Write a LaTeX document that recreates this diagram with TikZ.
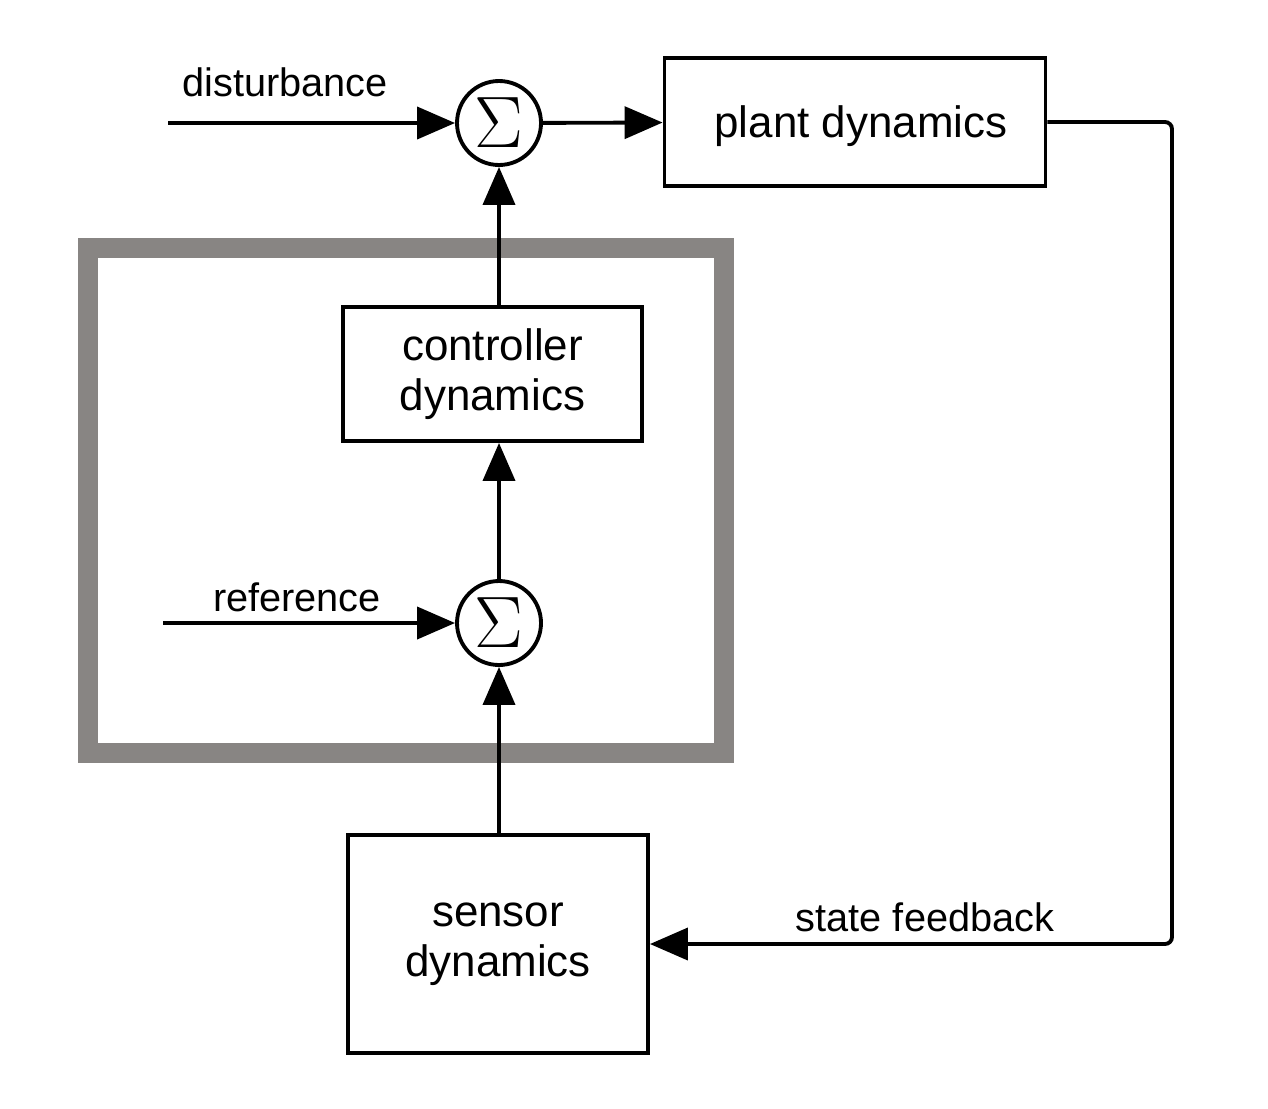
\documentclass[tikz,border=0pt]{standalone}
\usepackage{fontspec}
\setmainfont{Liberation Sans}
\usepackage{tikz}
\usetikzlibrary{positioning}
\usetikzlibrary{arrows.meta}
\definecolor{framegray}{RGB}{136,133,131}
\tikzset{block/.style={draw, line width=1.1pt, align=center, font=\fontsize{12.5}{14.3}\selectfont}}
\tikzset{sumnode/.style={draw, circle, line width=1.1pt, minimum size=0.84cm, inner sep=0pt, font=\fontsize{21}{21}\selectfont}}
\tikzset{sig/.style={line width=1.1pt, -{Triangle[length=3.8mm,width=3.2mm]}}}
\tikzset{lbl/.style={font=\fontsize{11.3}{13}\selectfont}}

\begin{document}
\begin{tikzpicture}
\useasboundingbox (0,0) rectangle (12.68,-11.08);
\draw[framegray, line width=0.2cm] (0.88,-2.48) rectangle (7.24,-7.53);

\node[sumnode] (sumtop) at (4.99,-1.23) {$\Sigma$};
\node[block, minimum width=3.81cm, minimum height=1.28cm, text depth=0pt] (plant) at (8.55,-1.22) {\hspace{0.12cm}plant dynamics};
\node[block, minimum width=2.99cm, minimum height=1.34cm] (ctrl) at (4.925,-3.74) {controller\\dynamics};
\node[sumnode] (sumlow) at (4.99,-6.23) {$\Sigma$};
\node[block, minimum width=3.0cm, minimum height=2.18cm] (sensor) at (4.98,-9.44) {sensor\\dynamics};

\coordinate (dstart) at (1.68,-1.23);
\coordinate (rstart) at (1.63,-6.23);
\coordinate (fbx) at (11.72,-5);

\node[lbl] (dlabel) at (2.85,-0.82) {disturbance};
\node[lbl] (rlabel) at (2.97,-5.97) {reference};
\node[lbl] (fblabel) at (9.25,-9.17) {state feedback};

\draw[sig] (dstart) -- (sumtop);
\draw[sig] (sumtop) -- (plant);
\draw[sig] (ctrl.north -| sumtop) -- (sumtop);
\draw[sig] (sumlow) -- (sumlow |- ctrl.south);
\draw[sig] (rstart) -- (sumlow);
\draw[sig] (sensor.north -| sumlow) -- (sumlow);
\draw[sig, rounded corners=2pt] (plant.east) -| (fbx) |- (sensor.east);
\end{tikzpicture}
\end{document}
